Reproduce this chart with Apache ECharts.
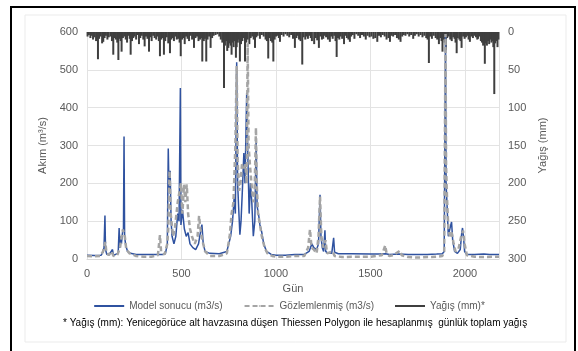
<!DOCTYPE html>
<html>
<head>
<meta charset="utf-8">
<script src="https://cdn.jsdelivr.net/npm/echarts@6/dist/echarts.min.js"></script>
<style>
html, body { margin: 0; padding: 0; background: #fff; }
#chart { width: 578px; height: 351px; }
</style>
</head>
<body>
<div id="chart"></div>
<script>
// gün, debi (m3/s) - model sonucu
var modelFlow = [
    [0,10],[40,9],[75,10],[85,18],[90,30],[95,115],[98,25],[105,12],[120,14],[135,25],[140,10],[150,12],[165,15],
    [170,82],[174,30],[178,60],[182,40],[188,70],[193,80],[196,324],[199,60],[205,35],[215,20],[230,15],[260,12],
    [300,12],[340,12],[380,12],[400,12],[415,14],[425,40],[430,292],[434,180],[440,233],[445,100],[450,60],[460,40],
    [470,60],[480,120],[487,100],[494,452],[497,90],[505,130],[515,80],[525,60],[535,70],[545,40],[560,30],[575,25],
    [590,40],[600,70],[608,91],[615,40],[625,20],[650,15],[700,14],[740,20],[760,60],[770,100],[779,163],[785,120],
    [792,520],[797,200],[803,130],[809,64],[815,100],[822,180],[830,280],[836,200],[845,439],[850,300],[858,120],
    [865,200],[872,150],[880,60],[888,100],[895,320],[900,140],[908,117],[915,90],[925,70],[935,40],[950,20],[975,12],
    [1000,10],[1050,10],[1100,12],[1150,12],[1175,20],[1190,40],[1200,30],[1215,25],[1225,40],[1233,170],[1238,60],
    [1245,30],[1252,20],[1259,76],[1263,20],[1275,15],[1295,15],[1305,56],[1310,18],[1330,14],[1400,14],[1500,13],
    [1550,13],[1580,14],[1600,12],[1650,13],[1700,12],[1750,12],[1800,12],[1850,13],[1880,14],[1890,20],[1897,590],
    [1900,200],[1905,144],[1912,60],[1920,80],[1929,98],[1935,50],[1945,20],[1960,15],[1975,25],[1983,70],[1987,82],
    [1992,60],[1998,20],[2010,12],[2050,12],[2100,13],[2130,12],[2180,12]
];

// gün, debi (m3/s) - gözlemlenmiş
var observedFlow = [
    [0,8],[40,7],[70,8],[85,20],[92,35],[97,45],[102,20],[115,10],[130,20],[140,8],[160,10],[175,30],[183,60],
    [190,78],[196,80],[200,60],[208,25],[225,15],[260,8],[300,6],[340,6],[375,10],[386,63],[392,20],[410,12],[425,40],
    [430,80],[437,233],[443,120],[455,60],[465,80],[480,150],[490,180],[497,200],[505,120],[513,197],[520,150],
    [528,197],[535,120],[545,80],[555,60],[570,40],[585,60],[593,114],[600,80],[610,50],[625,20],[650,8],[700,8],
    [740,15],[755,60],[765,120],[775,150],[785,300],[792,510],[797,260],[805,180],[812,200],[820,250],[830,240],
    [838,250],[845,200],[850,570],[855,300],[862,250],[870,200],[880,150],[887,180],[894,347],[898,200],[905,120],
    [912,100],[925,60],[940,30],[955,15],[980,8],[1000,6],[1050,6],[1100,8],[1150,8],[1170,30],[1180,78],[1188,30],
    [1200,25],[1215,15],[1225,60],[1233,165],[1240,60],[1250,30],[1262,50],[1270,15],[1300,20],[1310,8],[1350,5],
    [1400,6],[1500,6],[1560,10],[1578,36],[1585,15],[1600,8],[1620,10],[1656,22],[1665,10],[1700,5],[1750,4],
    [1800,5],[1850,6],[1880,8],[1890,20],[1897,595],[1900,250],[1905,160],[1912,80],[1920,60],[1930,70],[1940,40],
    [1950,20],[1965,25],[1980,60],[1990,75],[1998,40],[2010,10],[2050,6],[2100,5],[2150,6],[2180,6]
];

// gün, yağış (mm)
var rainfall = [
    [3,6],[10,4],[18,8],[25,5],[32,10],[40,7],[48,12],[58,36],[64,9],[72,6],[80,15],[86,13],[93,8],[100,5],[108,10],
    [115,7],[125,6],[132,12],[139,30],[146,8],[153,10],[160,14],[166,37],[172,9],[178,12],[183,26],[190,8],[197,6],
    [205,10],[212,14],[220,5],[226,9],[231,30],[238,12],[245,8],[252,6],[260,10],[268,4],[275,16],[282,8],[290,5],
    [298,10],[305,19],[312,6],[320,9],[328,26],[335,7],[342,12],[350,5],[358,8],[366,10],[374,6],[380,12],[386,32],
    [393,10],[400,8],[407,30],[414,12],[422,7],[430,15],[439,28],[446,10],[453,8],[460,12],[468,6],[475,10],[482,9],
    [490,14],[496,32],[503,10],[510,8],[517,16],[524,6],[532,9],[540,12],[548,5],[556,10],[566,21],[574,8],[582,6],
    [590,12],[598,10],[604,8],[610,39],[618,12],[624,9],[631,39],[638,10],[646,6],[654,21],[662,8],[670,5],[680,4],
    [690,3],[700,6],[708,10],[716,14],[725,74],[730,18],[736,12],[742,25],[748,21],[755,15],[760,18],[765,30],[770,14],
    [776,20],[782,12],[788,34],[792,20],[798,14],[803,10],[809,39],[815,16],[822,12],[829,8],[836,39],[843,14],[850,10],
    [859,16],[866,8],[874,6],[882,10],[889,21],[896,7],[903,5],[915,9],[925,4],[935,6],[945,10],[952,12],[959,35],
    [966,8],[973,12],[980,14],[986,39],[993,10],[1000,6],[1008,5],[1015,8],[1021,13],[1030,4],[1040,6],[1050,3],
    [1060,5],[1070,7],[1080,4],[1090,9],[1100,21],[1108,8],[1115,5],[1122,10],[1130,12],[1139,43],[1146,7],[1155,10],
    [1162,6],[1169,9],[1176,5],[1184,8],[1190,12],[1202,16],[1210,8],[1218,11],[1227,21],[1235,6],[1243,10],[1250,9],
    [1258,5],[1265,7],[1275,10],[1285,13],[1292,6],[1300,9],[1308,5],[1315,12],[1321,33],[1328,8],[1335,10],[1342,6],
    [1350,9],[1360,16],[1368,5],[1375,8],[1383,10],[1391,13],[1398,6],[1406,4],[1415,9],[1425,3],[1435,5],[1445,8],
    [1455,4],[1465,6],[1475,10],[1485,5],[1495,7],[1505,6],[1515,9],[1525,8],[1536,13],[1545,5],[1555,7],[1565,4],
    [1575,6],[1585,10],[1595,8],[1603,13],[1612,5],[1620,6],[1630,4],[1640,8],[1650,10],[1659,13],[1668,6],[1676,4],
    [1685,5],[1695,3],[1705,6],[1715,4],[1726,9],[1735,5],[1745,3],[1755,6],[1765,4],[1775,7],[1785,5],[1795,8],
    [1802,10],[1809,41],[1816,6],[1825,9],[1835,5],[1845,8],[1853,10],[1862,16],[1870,8],[1876,12],[1881,26],[1888,10],
    [1893,14],[1899,24],[1906,8],[1914,6],[1922,10],[1930,12],[1938,7],[1945,9],[1950,14],[1956,28],[1962,8],[1970,10],
    [1976,12],[1982,21],[1990,6],[1998,9],[2005,7],[2012,5],[2019,10],[2026,13],[2034,6],[2042,8],[2050,5],[2058,7],
    [2065,10],[2069,9],[2076,6],[2084,12],[2090,14],[2096,18],[2100,16],[2105,42],[2110,15],[2116,18],[2122,12],
    [2128,16],[2134,10],[2140,14],[2146,12],[2150,20],[2155,82],[2160,15],[2166,12],[2172,20],[2177,10]
];

var seriesNames = ['Model sonucu (m3/s)', 'Gözlemlenmiş (m3/s)', 'Yağış (mm)*'];
var footnote = '* Yağış (mm): Yenicegörüce alt havzasına düşen Thiessen Polygon ile hesaplanmış  günlük toplam yağış';

var font = '"Liberation Sans", sans-serif';
var textGray = '#595959';

var myChart = echarts.init(document.getElementById('chart'), null, {renderer: 'canvas'});

var option = {
    backgroundColor: '#fff',
    animation: false,
    textStyle: {fontFamily: font},
    grid: {left: 87, right: 79, top: 32, bottom: 92},
    legend: {
        top: 296,
        left: 'center',
        itemWidth: 30,
        itemHeight: 2,
        itemGap: 21,
        textStyle: {color: textGray, fontSize: 10, fontFamily: font},
        data: [
            {name: seriesNames[0]},
            {name: seriesNames[1]},
            {name: seriesNames[2], icon: 'rect'}
        ]
    },
    xAxis: {
        type: 'value',
        min: 0,
        max: 2180,
        interval: 500,
        name: 'Gün',
        nameLocation: 'middle',
        nameGap: 22,
        nameTextStyle: {color: textGray, fontSize: 11},
        axisLine: {show: true, lineStyle: {color: '#D9D9D9'}},
        axisTick: {show: false},
        axisLabel: {
            color: textGray, fontSize: 11, margin: 9, showMaxLabel: false,
            formatter: function (v) { return String(v); }
        },
        splitLine: {show: true, lineStyle: {color: '#E3E3E3'}}
    },
    yAxis: [{
        type: 'value',
        min: 0,
        max: 600,
        interval: 100,
        name: 'Akım (m³/s)',
        nameLocation: 'middle',
        nameGap: 26,
        nameTextStyle: {color: textGray, fontSize: 11},
        axisLine: {show: false},
        axisTick: {show: false},
        axisLabel: {color: textGray, fontSize: 11, margin: 9},
        splitLine: {show: true, lineStyle: {color: '#E3E3E3'}}
    }, {
        type: 'value',
        min: 0,
        max: 300,
        interval: 50,
        inverse: true,
        name: 'Yağış (mm)',
        nameLocation: 'middle',
        nameGap: 33,
        nameTextStyle: {color: textGray, fontSize: 11},
        axisLine: {show: false},
        axisTick: {show: false},
        axisLabel: {color: textGray, fontSize: 11, margin: 9},
        splitLine: {show: false}
    }],
    graphic: [{
        type: 'rect',
        shape: {x: 25, y: 15, width: 541, height: 327},
        style: {fill: 'none', stroke: '#EBEBEB', lineWidth: 1},
        silent: true
    }, {
        type: 'rect',
        shape: {x: 11, y: 7, width: 564, height: 360},
        style: {fill: 'none', stroke: '#000', lineWidth: 2},
        silent: true
    }, {
        type: 'text',
        left: 63,
        top: 318,
        style: {text: footnote, fill: '#000', font: '10px ' + font}
    }],
    series: [{
        name: seriesNames[2],
        type: 'bar',
        xAxisIndex: 0,
        yAxisIndex: 1,
        barWidth: 2,
        itemStyle: {color: '#3F3F3F'},
        data: rainfall,
        z: 1
    }, {
        name: seriesNames[0],
        type: 'line',
        yAxisIndex: 0,
        symbol: 'none',
        lineStyle: {color: '#2F52A0', width: 1.5},
        itemStyle: {color: '#2F52A0'},
        data: modelFlow,
        z: 2
    }, {
        name: seriesNames[1],
        type: 'line',
        yAxisIndex: 0,
        symbol: 'none',
        lineStyle: {color: '#A5A5A5', width: 2.5, type: [5, 3]},
        itemStyle: {color: '#A5A5A5'},
        data: observedFlow,
        z: 3
    }]
};

myChart.setOption(option);
</script>
</body>
</html>
